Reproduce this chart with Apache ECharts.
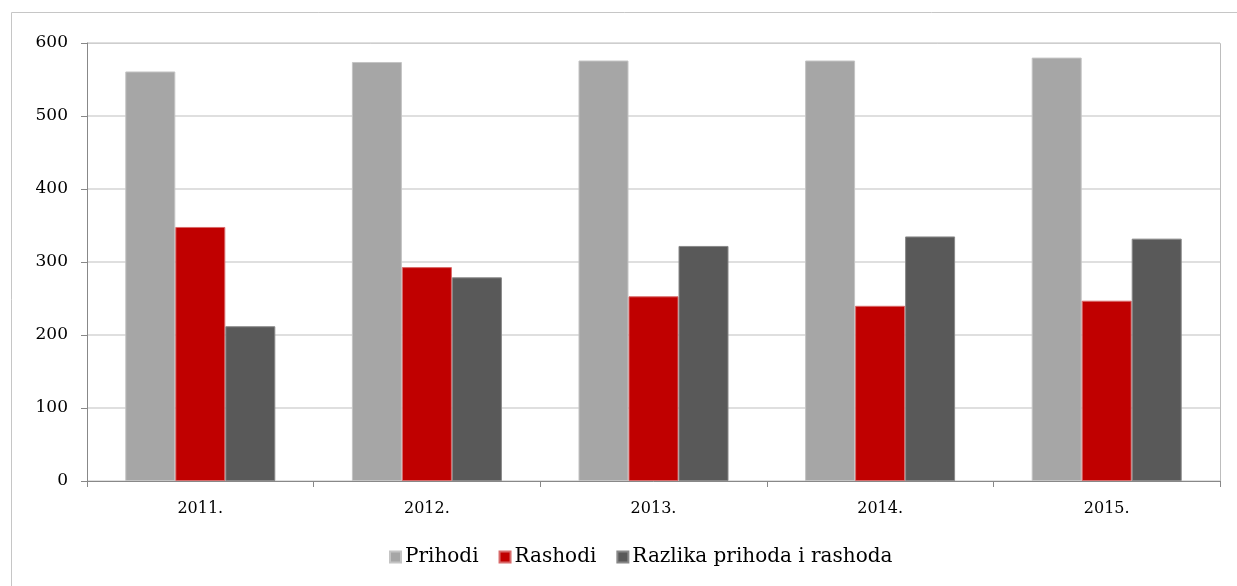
<!DOCTYPE html>
<html>
<head>
<meta charset="utf-8">
<script src="https://cdn.jsdelivr.net/npm/echarts@6/dist/echarts.min.js"></script>
<style>
html,body{margin:0;padding:0;background:#fff;}
#chart{width:1237px;height:586px;}
</style>
</head>
<body>
<div id="chart"></div>
<script>
const categories = ['2011.', '2012.', '2013.', '2014.', '2015.'];
const prihodi = [561, 574, 576, 576, 580];
const rashodi = [348, 293, 253, 240, 247];
const razlika = [212, 279, 322, 335, 332];
const seriesNames = ['Prihodi', 'Rashodi', 'Razlika prihoda i rashoda'];
const yTicks = { min: 0, max: 600, interval: 100 };

const chart = echarts.init(document.getElementById('chart'), null, { renderer: 'canvas' });
const font = 'DejaVu Serif';
chart.setOption({
  animation: false,
  backgroundColor: '#fff',
  graphic: [
    { type: 'rect', shape: { x: 11.5, y: 12.5, width: 1400, height: 700 }, style: { fill: 'none', stroke: '#c6c6c6', lineWidth: 1 }, z: -10 },
    { type: 'rect', shape: { x: 87.5, y: 43.5, width: 1133, height: 438 }, style: { fill: 'none', stroke: '#bdbdbd', lineWidth: 1 }, z: -5 }
  ],
  grid: { left: 87, top: 43, right: 17, bottom: 105, containLabel: false },
  legend: {
    bottom: 14,
    left: 384,
    itemWidth: 11,
    itemHeight: 11,
    itemGap: 20,
    icon: 'rect',
    textStyle: { fontFamily: font, fontSize: 20, color: '#000', padding: [0, 0, 0, -1] },
    data: seriesNames
  },
  xAxis: {
    type: 'category',
    data: categories,
    axisLine: { lineStyle: { color: '#888', width: 1 } },
    axisTick: { show: true, length: 6, lineStyle: { color: '#888' } },
    axisLabel: { fontFamily: font, fontSize: 16, color: '#000', margin: 20 },
    splitLine: { show: false }
  },
  yAxis: {
    type: 'value',
    min: yTicks.min,
    max: yTicks.max,
    interval: yTicks.interval,
    axisLine: { show: true, lineStyle: { color: '#888', width: 1 } },
    axisTick: { show: true, length: 6, lineStyle: { color: '#888' } },
    axisLabel: { fontFamily: font, fontSize: 17, color: '#000', margin: 19 },
    splitLine: { show: true, lineStyle: { color: '#d4d4d4', width: 1.5 } }
  },
  series: [
    { name: seriesNames[0], type: 'bar', data: prihodi, barGap: '0%', barCategoryGap: '33.8%',
      itemStyle: { color: '#a6a6a6', borderColor: '#c4c4c4', borderWidth: 1 } },
    { name: seriesNames[1], type: 'bar', data: rashodi,
      itemStyle: { color: '#c00000', borderColor: '#d86a6a', borderWidth: 1 } },
    { name: seriesNames[2], type: 'bar', data: razlika,
      itemStyle: { color: '#595959', borderColor: '#888888', borderWidth: 1 } }
  ]
});
</script>
</body>
</html>
